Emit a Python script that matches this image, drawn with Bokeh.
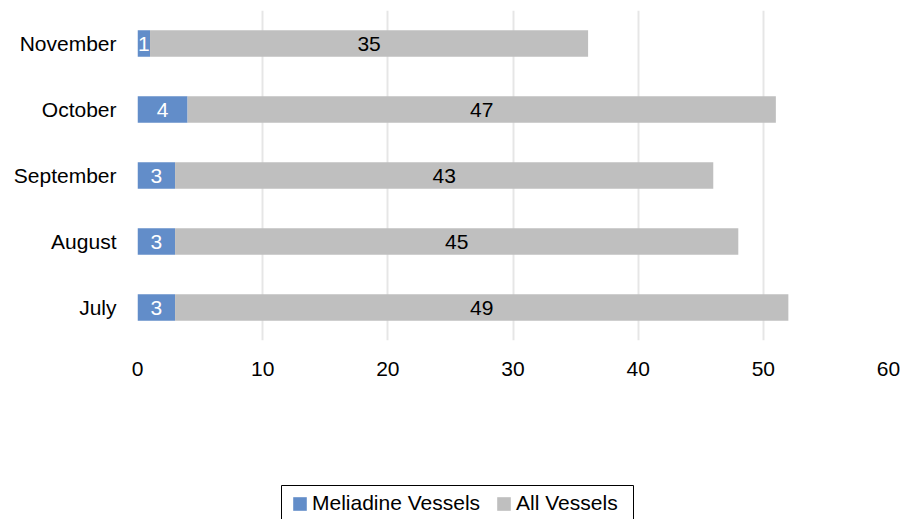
from bokeh.plotting import figure
from bokeh.layouts import column
from bokeh.models import (ColumnDataSource, FactorRange, Range1d, Legend,
                          LegendItem, LabelSet)
from bokeh.core.properties import value
from bokeh.embed import file_html
from bokeh.resources import INLINE

months = ["July", "August", "September", "October", "November"]
meliadine_vessels = [3, 3, 3, 4, 1]
all_vessels = [49, 45, 43, 47, 35]
x_ticks = [0, 10, 20, 30, 40, 50, 60]

BLUE = "#628DC9"
GREY = "#BFBFBF"
FONT = "Liberation Sans"
FS = "21px"

src = ColumnDataSource(dict(
    month=months,
    mel_left=[0] * len(months),
    mel_right=meliadine_vessels,
    all_left=meliadine_vessels,
    all_right=[m + a for m, a in zip(meliadine_vessels, all_vessels)],
    mel_mid=[m / 2 for m in meliadine_vessels],
    all_mid=[m + a / 2 for m, a in zip(meliadine_vessels, all_vessels)],
    mel_text=[str(v) for v in meliadine_vessels],
    all_text=[str(v) for v in all_vessels],
))

LEFT, RIGHT, TOP = 137, 15, 10

p = figure(
    width=903, height=480,
    y_range=FactorRange(factors=months, range_padding=0),
    x_range=Range1d(0, 60),
    output_backend="svg", toolbar_location=None,
    min_border_left=LEFT, min_border_right=RIGHT,
    min_border_top=TOP, min_border_bottom=140,
)
p.outline_line_color = None
p.background_fill_color = "white"
p.border_fill_color = "white"

p.hbar(y="month", left="mel_left", right="mel_right", height=0.4,
       fill_color=BLUE, line_color=None, source=src)
p.hbar(y="month", left="all_left", right="all_right", height=0.4,
       fill_color=GREY, line_color=None, source=src)

p.add_layout(LabelSet(x="mel_mid", y="month", text="mel_text", source=src,
                      text_align="center", text_baseline="middle",
                      text_color="white", text_font=value(FONT),
                      text_font_size=value(FS)))
p.add_layout(LabelSet(x="all_mid", y="month", text="all_text", source=src,
                      text_align="center", text_baseline="middle",
                      text_color="black", text_font=value(FONT),
                      text_font_size=value(FS)))

# axes
p.xaxis.ticker = x_ticks
p.xaxis.axis_line_color = None
p.xaxis.major_tick_line_color = None
p.xaxis.minor_tick_line_color = None
p.xaxis.major_label_text_font = FONT
p.xaxis.major_label_text_font_size = FS
p.xaxis.major_label_text_color = "black"
p.xaxis.major_label_standoff = 15

p.yaxis.axis_line_color = None
p.yaxis.major_tick_line_color = None
p.yaxis.minor_tick_line_color = None
p.yaxis.major_label_text_font = FONT
p.yaxis.major_label_text_font_size = FS
p.yaxis.major_label_text_color = "black"
p.yaxis.major_label_standoff = 15

p.ygrid.grid_line_color = None
p.xgrid.grid_line_color = "#E6E6E6"
p.xgrid.grid_line_width = 2

# legend strip: page pixels as data units
leg = figure(
    width=903, height=39,
    x_range=Range1d(LEFT, 903 - RIGHT), y_range=Range1d(0, 39),
    output_backend="svg", toolbar_location=None,
    min_border_left=LEFT, min_border_right=RIGHT,
    min_border_top=0, min_border_bottom=0,
)
leg.outline_line_color = None
leg.axis.visible = False
leg.grid.visible = False
leg.border_fill_color = "white"
leg.background_fill_color = "white"

# legend keys only; they sit left of the visible x range
k_mel = leg.hbar(y=[0], left=[0], right=[1], height=1, fill_color=BLUE,
                 line_color=None)
k_all = leg.hbar(y=[0], left=[0], right=[1], height=1, fill_color=GREY,
                 line_color=None)

# legend frame
leg.quad(left=[281], right=[633], top=[34], bottom=[-5],
         fill_color=None, line_color="black", line_width=1)

legend = Legend(
    items=[LegendItem(label="Meliadine Vessels", renderers=[k_mel]),
           LegendItem(label="All Vessels", renderers=[k_all])],
    orientation="horizontal",
    location=(281 - LEFT + 10, 4),
    label_text_font=FONT, label_text_font_size=FS,
    label_text_color="black",
    glyph_width=17, glyph_height=17,
    label_standoff=4, spacing=15,
    padding=12, margin=0,
    border_line_color=None,
    background_fill_alpha=0,
)
leg.add_layout(legend, "center")

open("out.html", "w").write(file_html(column(p, leg, spacing=0), INLINE))
